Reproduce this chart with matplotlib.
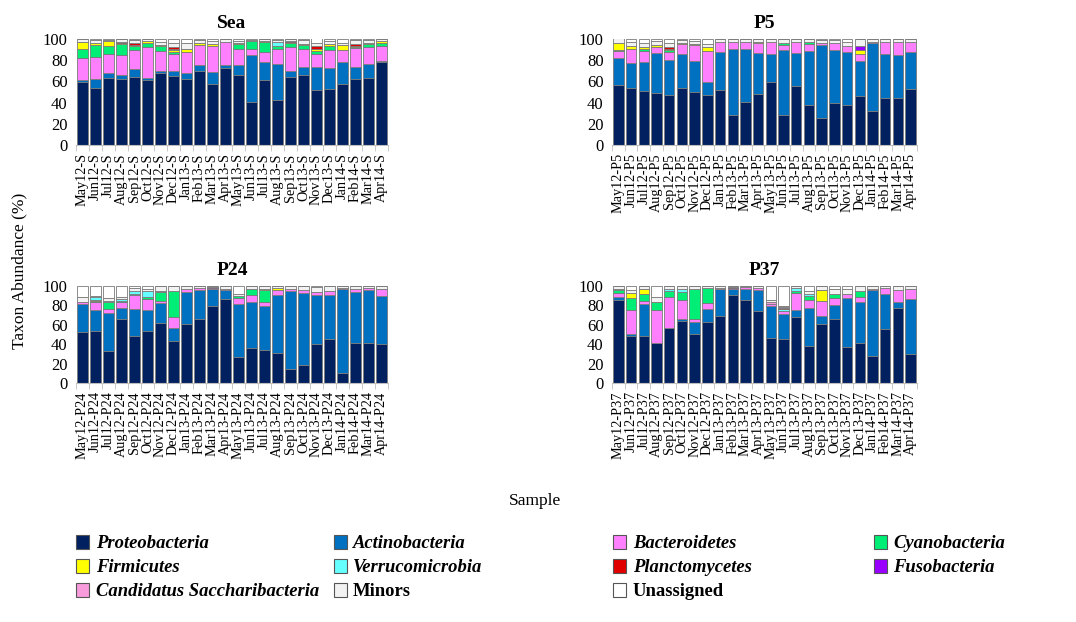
import numpy as np
import matplotlib
matplotlib.use("Agg")
import matplotlib.pyplot as plt
from matplotlib.patches import Patch

plt.rcParams['font.family'] = ['Liberation Serif', 'DejaVu Serif']

months = ['May12', 'Jun12', 'Jul12', 'Aug12', 'Sep12', 'Oct12', 'Nov12', 'Dec12',
          'Jan13', 'Feb13', 'Mar13', 'Apr13', 'May13', 'Jun13', 'Jul13', 'Aug13',
          'Sep13', 'Oct13', 'Nov13', 'Dec13', 'Jan14', 'Feb14', 'Mar14', 'Apr14']

taxa = ['Proteobacteria', 'Actinobacteria', 'Bacteroidetes', 'Cyanobacteria',
        'Firmicutes', 'Verrucomicrobia', 'Planctomycetes', 'Fusobacteria',
        'Candidatus Saccharibacteria', 'Minors', 'Unassigned']
colors = ['#002060', '#0070C0', '#FF80FF', '#00EE76', '#FFFF00', '#66FFFF',
          '#E00000', '#9900FF', '#F79BDD', '#F2F2F2', '#FFFFFF']

# one row per taxon, 24 samples each (%)
sea = [
    [59, 54, 63, 62, 64.5, 61, 68, 65, 62.5, 70, 58, 72.5, 66, 41, 61, 42, 64, 66.5, 51.5, 53, 57.5, 62.5, 63.5, 78],
    [2, 8, 5, 4.5, 7.5, 2, 2, 4.5, 5, 5.5, 11, 3, 9, 43.5, 17, 34, 6, 7.5, 22.5, 20, 20.5, 11.5, 12.5, 1.5],
    [21, 21, 18, 18.5, 18, 29, 19, 16.5, 20, 19, 24, 21.5, 16, 6.5, 10, 14.5, 22.5, 17, 11.5, 16.5, 12, 17.5, 16, 14],
    [9, 11, 7, 10, 3, 4.5, 4, 2, 0, 0, 0, 0, 4.5, 7, 9.5, 3, 3.5, 3, 3.5, 4, 0, 1, 3.5, 2.5],
    [6, 2, 5, 1.5, 1, 1.5, 1.5, 2, 3.5, 1.5, 2, 0.5, 0.5, 0, 1, 0, 1.5, 1.5, 2, 1.5, 4, 1, 0.5, 2],
    [0, 0, 0, 0, 0, 0, 0, 0.5, 0, 0, 0, 0, 0, 0, 0, 3.5, 0, 0, 0, 0, 0, 0, 0, 0],
    [0.5, 0, 0, 1, 2, 0, 0, 1.5, 0, 0, 0, 0, 0, 0, 0, 0, 0.5, 0, 2.5, 0, 0, 2, 0, 0],
    [0, 0, 0, 0, 0, 0, 0, 0, 0, 0, 0, 0, 0, 0, 0, 0, 0, 0, 0, 0, 0, 0, 0, 0],
    [0, 0, 0, 0, 0, 0, 0, 0, 0, 0, 0, 0, 0, 0, 0, 0, 0, 0, 0, 0, 0, 0, 0, 0],
    [2.5, 3, 1.5, 2.5, 3, 2, 2.5, 4.5, 5.5, 3, 3.5, 2.5, 2.5, 1.5, 1.5, 2.5, 2, 3.5, 3, 3.5, 2, 4, 3, 2],
    [0, 1, 0.5, 0, 1, 0, 3, 3.5, 3.5, 1, 1.5, 0, 1.5, 0.5, 0, 0.5, 0, 1, 4, 1.5, 4, 0.5, 1, 0],
]
p5 = [
    [57, 54, 51, 49.5, 47, 54, 50, 47, 51.5, 28, 41, 48.5, 59.5, 28.5, 55.5, 37.5, 25.5, 40, 38, 46, 32.5, 44, 44, 53],
    [25.5, 23, 27, 37, 33.5, 31.5, 29, 12.5, 36, 63, 50, 38, 26.5, 61, 31.5, 51, 68.5, 50, 50, 33, 63.5, 42, 41, 35],
    [6.5, 14, 11, 5.5, 7.5, 10, 15, 29.5, 9.5, 6.5, 6, 9.5, 11.5, 5, 10, 6.5, 2, 6, 5, 7, 1, 11, 12, 9],
    [0.5, 0, 1.5, 0, 2, 0, 0, 0, 0, 0, 0, 0, 0, 2, 0, 2, 0, 0, 0, 0, 0, 0, 0, 0],
    [7, 2.5, 1.5, 2, 1, 0.5, 1.5, 3, 0.5, 0, 0, 1, 0, 0, 0, 0, 0, 0.5, 0.5, 3.5, 0, 0, 0, 0],
    [0, 0, 0, 0, 0, 0, 0, 0, 0, 0, 0, 0, 0, 0, 0, 0, 0, 0, 0, 0, 0, 0, 0, 0],
    [0, 0, 0, 0, 1.5, 0, 0, 0, 0, 0, 0, 0, 0, 0, 0, 0, 0, 0, 0, 0, 0, 0, 0, 0],
    [0, 0, 0, 0, 0, 0, 0, 0, 0, 0, 0, 0, 0, 0, 0, 0, 0, 0, 0, 3.5, 0, 0, 0, 0],
    [0, 0, 0, 0, 0, 0, 0, 0, 0, 0, 0, 0, 0, 0, 0, 0, 0, 0, 0, 0, 0, 0, 0, 0],
    [4, 3.5, 4.5, 4, 3.5, 3, 2.5, 3.5, 2.5, 2.5, 3, 3, 2.5, 3.5, 3, 3, 3.5, 3, 3.5, 7, 3, 3, 3, 3],
    [0, 3, 3.5, 2, 4, 1, 2, 4.5, 0, 0, 0, 0, 0, 0, 0, 0, 0.5, 0.5, 3, 0, 0, 0, 0, 0],
]
p24 = [
    [53, 54, 33, 66, 48, 54, 62, 43, 61, 66, 79, 87, 27, 36.5, 34, 31, 14, 19, 40, 45, 10, 41, 41, 40],
    [28, 21.5, 39.5, 11.5, 28.5, 21.5, 20, 14, 33, 29.5, 18, 9, 54, 47, 45, 59.5, 80.5, 74, 51, 45.5, 87, 53, 54.5, 50],
    [3, 7.5, 3.5, 5.5, 14, 11.5, 3, 11.5, 3, 2.5, 1, 1, 7, 7, 4.5, 5.5, 2, 3, 3, 4, 1, 3, 2.5, 7],
    [0, 1.5, 7, 1.5, 1.5, 2, 8.5, 26.5, 0, 0, 0, 0, 2, 6, 12, 0, 0, 0, 0, 0, 0, 0, 0, 0],
    [0, 1.5, 0, 0, 0, 0, 0, 0, 0, 0, 0, 0, 0, 0, 1.5, 1.5, 0, 0, 0, 0, 0, 0, 0, 0],
    [0, 2.5, 2, 2.5, 2.5, 6, 1.5, 0, 0, 0, 0, 0, 0, 0, 0, 0, 0, 0, 0, 0, 0, 0, 0, 0],
    [0, 0, 0, 0, 0, 0, 0, 0, 0, 0, 0, 0, 0, 0, 0, 0, 0, 0, 0, 0, 0, 0, 0, 0],
    [0, 0, 0, 0, 0, 0, 0, 0, 0, 0, 0.5, 0, 0, 0, 0, 0, 0, 0, 0, 0, 0, 0, 0, 0],
    [0, 0, 0, 0, 0, 0, 0, 0, 0, 0, 0, 0, 0, 0, 0, 0, 0, 0, 0, 0, 0, 0, 0, 0],
    [5, 1.5, 3, 1.5, 3.5, 2, 5, 5, 3, 2, 1.5, 3, 2, 3.5, 3, 2.5, 3, 4, 4.5, 5.5, 2, 3, 2, 3],
    [11, 10, 12, 11.5, 2, 3, 0, 0, 0, 0, 0, 0, 8, 0, 0, 0, 0.5, 0, 1.5, 0, 0, 0, 0, 0],
]
p37 = [
    [86, 48, 48.5, 41, 56.5, 64, 51, 63, 69.5, 91, 86, 74.5, 46, 45, 68.5, 38, 61, 66, 37, 41, 28, 56, 77, 30],
    [2.5, 2.5, 33, 0.5, 0.5, 2, 12, 13.5, 27.5, 6, 11, 21, 33, 26, 7, 39, 8, 14, 51, 42, 68, 36, 7, 57],
    [4, 24.5, 3.5, 34, 31.5, 19.5, 3, 6, 0.5, 1, 2, 2.5, 2.5, 3, 17, 9, 16, 8, 4, 6, 1, 5.5, 12, 10],
    [3, 13, 7, 8.5, 6.5, 8, 31, 15.5, 0, 0, 0, 0, 0, 0, 2.5, 4, 0, 4, 0, 6, 0, 0, 0, 0],
    [0, 5, 4.5, 0, 0, 0, 0, 0, 0, 0, 0, 0, 0, 0, 0, 0, 11, 0, 0, 0, 0, 0, 0, 0],
    [1, 0, 0, 0, 2, 3, 0, 0, 0, 0, 0, 0, 0, 2.5, 3, 2, 0, 0, 0, 0, 0, 0, 0, 0],
    [0, 0, 0, 0, 0, 0, 0, 0, 0, 0, 0, 0, 0, 1, 0, 0, 0, 0, 0, 0, 0, 0, 0, 0],
    [0, 0, 0, 0, 0, 0, 0, 0, 0, 1, 0, 0, 0, 0, 0, 0, 0, 0, 0, 0, 0, 0, 0, 0],
    [0, 0, 0, 0, 0, 0, 0, 0, 0, 0, 0, 0, 1.5, 0.5, 0, 0, 0, 0, 0, 0, 0, 0, 0, 0],
    [3.5, 2.5, 3, 4.5, 3, 3.5, 3, 2, 2.5, 1, 1, 2, 3, 1, 2, 3, 4, 4.5, 5, 5, 3, 2.5, 4, 3],
    [0, 4.5, 0.5, 11.5, 0, 0, 0, 0, 0, 0, 0, 0, 14, 21, 0, 5, 0, 3.5, 3, 0, 0, 0, 0, 0],
]

panels = [('Sea', 'S', sea, [0.0706, 0.7669, 0.290, 0.1704]),
          ('P5', 'P5', p5, [0.5688, 0.7669, 0.2834, 0.1704]),
          ('P24', 'P24', p24, [0.0706, 0.3842, 0.290, 0.1560]),
          ('P37', 'P37', p37, [0.5688, 0.3842, 0.2834, 0.1560])]

fig = plt.figure(figsize=(10.76, 6.22), dpi=100)
x = np.arange(len(months))

for title, suffix, data, pos in panels:
    ax = fig.add_axes(pos)
    bottom = np.zeros(len(months))
    for vals, col in zip(data, colors):
        vals = np.array(vals, dtype=float)
        ax.bar(x, vals, 0.82, bottom=bottom, color=col, edgecolor='#7a7a7a', linewidth=0.6)
        bottom += vals
    ax.set_xlim(-0.5, len(months) - 0.5)
    ax.set_ylim(0, 100)
    ax.set_yticks([0, 20, 40, 60, 80, 100])
    ax.tick_params(axis='y', length=0, labelsize=12, pad=6)
    ax.set_xticks(x)
    ax.set_xticklabels([m + '-' + suffix for m in months], rotation=90, fontsize=10.3)
    ax.tick_params(axis='x', which='major', length=0, pad=6)
    ax.set_xticks(np.arange(-0.5, len(months)), minor=True)
    ax.tick_params(axis='x', which='minor', length=4, color='#BFBFBF')
    for s in ['top', 'right', 'left']:
        ax.spines[s].set_visible(False)
    ax.spines['bottom'].set_color('#BFBFBF')
    ax.set_title(title, fontsize=14, fontweight='bold', pad=8)

fig.text(0.018, 0.565, 'Taxon Abundance (%)', rotation=90, ha='center', va='center', fontsize=12.5)
fig.text(0.497, 0.195, 'Sample', ha='center', va='center', fontsize=12.5)

# legend laid out row by row in four columns
col_x = [0.071, 0.310, 0.570, 0.812]
order = [[0, 4, 8], [1, 5, 9], [2, 6, 10], [3, 7]]
for cx, idxs in zip(col_x, order):
    handles = [Patch(facecolor=colors[i], edgecolor='#555555', linewidth=0.8) for i in idxs]
    leg = fig.legend(handles, [taxa[i] for i in idxs], loc='upper left',
                     bbox_to_anchor=(cx, 0.140), frameon=False, fontsize=13.4,
                     handlelength=0.7, handleheight=0.75, handletextpad=0.35,
                     labelspacing=0.36, borderaxespad=0, borderpad=0)
    for t, i in zip(leg.get_texts(), idxs):
        t.set_fontweight('bold')
        if taxa[i] not in ('Minors', 'Unassigned'):
            t.set_fontstyle('italic')

fig.savefig('out.png', dpi=100)
